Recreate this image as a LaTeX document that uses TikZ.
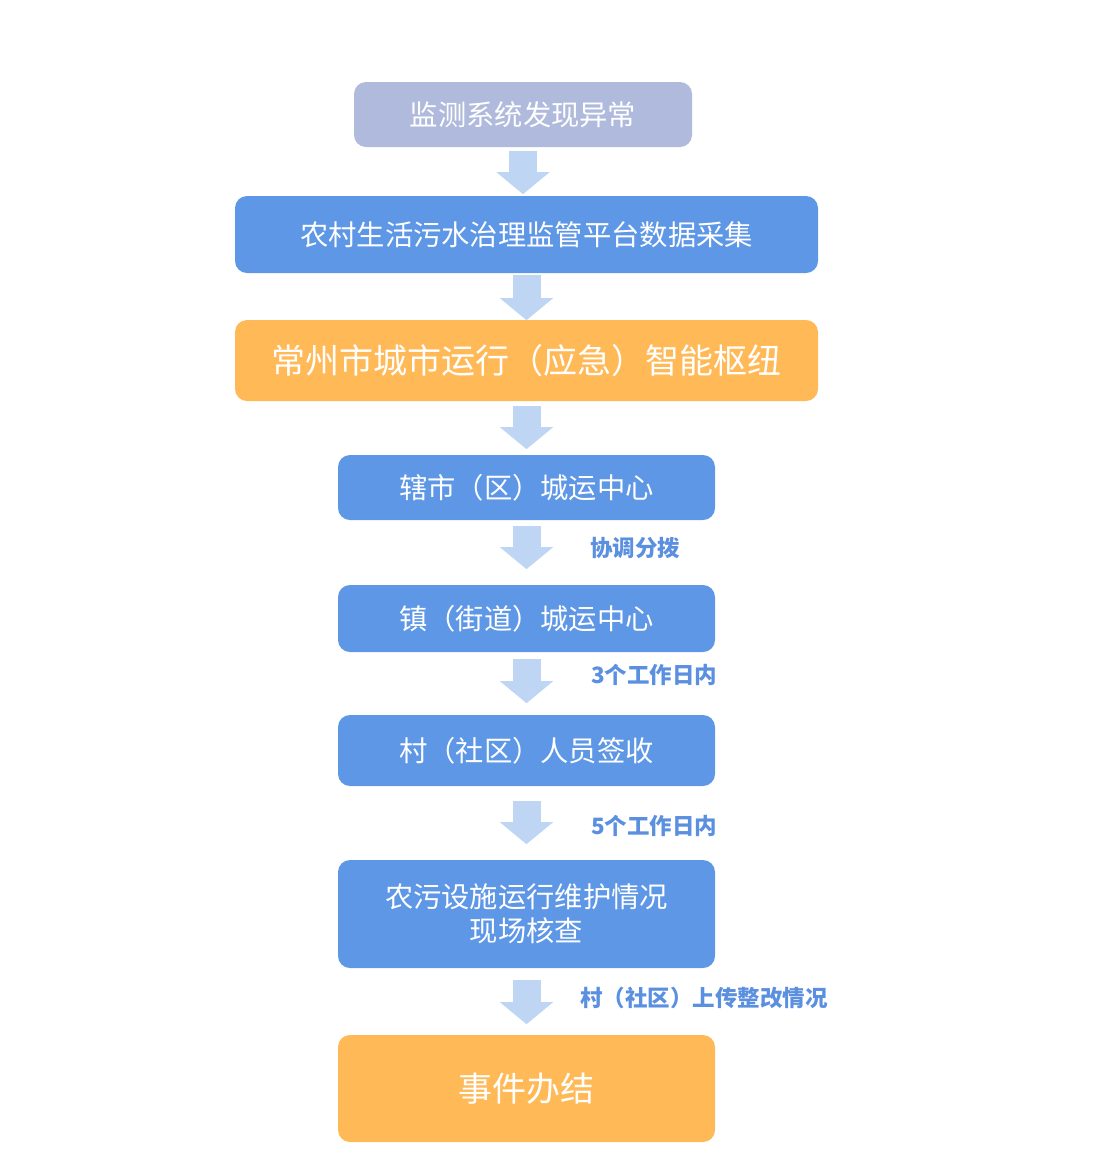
\documentclass[tikz,border=0pt]{standalone}
\usepackage{fontspec}
\newfontfamily\cjk{Noto Sans CJK SC}
\usetikzlibrary{arrows.meta}
\definecolor{lavbox}{HTML}{AFBADC}
\definecolor{bluebox}{HTML}{5E97E6}
\definecolor{orangebox}{HTML}{FFB957}
\definecolor{arrowblue}{HTML}{BED5F4}
\definecolor{labelblue}{HTML}{5B8FE0}
\begin{document}
\begin{tikzpicture}[x=1pt,y=-1pt,line cap=butt,line join=miter,
	box/.style={rectangle,rounded corners=12pt,inner sep=0pt,text=white,align=center,font=\cjk\fontsize{28.3}{34}\selectfont},
	bigbox/.style={box,font=\cjk\fontsize{34}{40}\selectfont},
	flowarrow/.style={arrowblue,line width=28pt,-{Triangle[width=52pt,length=22pt]}},
	note/.style={anchor=west,inner sep=0pt,text=labelblue,font=\cjk\bfseries\fontsize{22.5}{26}\selectfont}]
		\useasboundingbox (0,0) rectangle (1111,1171);
		\node (b1) at (523,114.5)[box,fill=lavbox,minimum width=338pt,minimum height=65pt]{监测系统发现异常};
		\node (b2) at (526.5,234.5)[box,fill=bluebox,minimum width=583pt,minimum height=77pt]{农村生活污水治理监管平台数据采集};
		\node (b3) at (526.5,360.5)[bigbox,fill=orangebox,minimum width=583pt,minimum height=81pt]{常州市城市运行（应急）智能枢纽};
		\node (b4) at (526.5,487.5)[box,fill=bluebox,minimum width=377pt,minimum height=65pt]{辖市（区）城运中心};
		\node (b5) at (526.5,618.5)[box,fill=bluebox,minimum width=377pt,minimum height=67pt]{镇（街道）城运中心};
		\node (b6) at (526.5,750.5)[box,fill=bluebox,minimum width=377pt,minimum height=71pt]{村（社区）人员签收};
		\node (b7) at (526.5,914)[box,fill=bluebox,minimum width=377pt,minimum height=108pt]{农污设施运行维护情况\\现场核查};
		\node (b8) at (526.5,1088.5)[bigbox,fill=orangebox,minimum width=377pt,minimum height=107pt]{事件办结};
		\draw[flowarrow] (b1.south) ++(0,4) -- ++(0,43);
		\draw[flowarrow] (b2.south) ++(0,2) -- ++(0,45);
		\draw[flowarrow] (b3.south) ++(0,5) -- ++(0,43);
		\draw[flowarrow] (b4.south) ++(0,6) -- ++(0,43);
		\draw[flowarrow] (b5.south) ++(0,7) -- ++(0,44);
		\draw[flowarrow] (b6.south) ++(0,15) -- ++(0,43);
		\draw[flowarrow] (b7.south) ++(0,12) -- ++(0,44);
		\node (l1) at (590,548)[note]{协调分拨};
		\node (l2) at (591,675)[note]{3个工作日内};
		\node (l3) at (591,826)[note]{5个工作日内};
		\node (l4) at (580,998)[note]{村（社区）上传整改情况};
	\end{tikzpicture}
\end{document}
